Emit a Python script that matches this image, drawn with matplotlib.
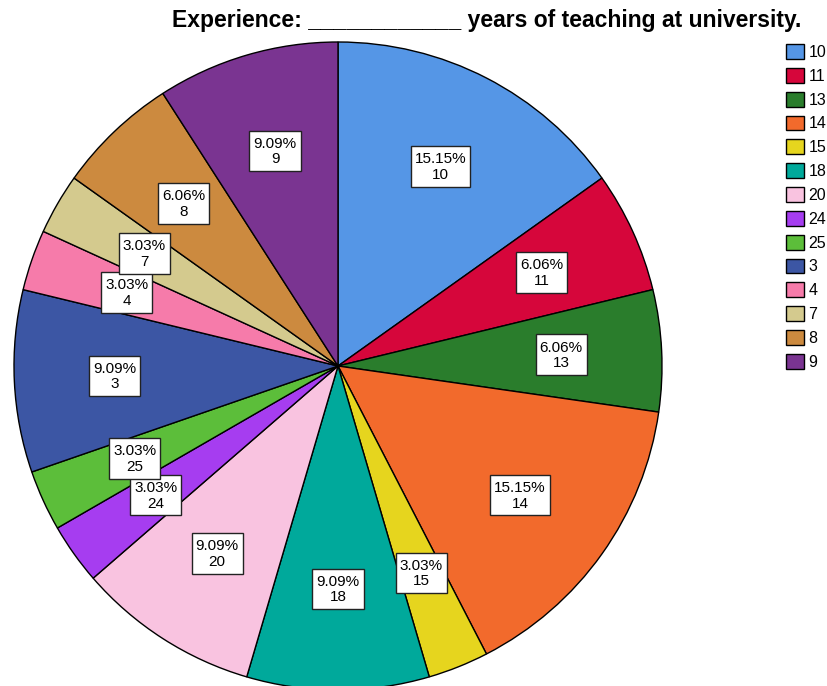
import numpy as np
import matplotlib.pyplot as plt
from matplotlib.path import Path

plt.rcParams['font.family'] = ['Liberation Sans', 'DejaVu Sans']

# Years of teaching experience and the number of respondents in each group
categories = ["10", "11", "13", "14", "15", "18", "20", "24", "25", "3", "4", "7", "8", "9"]
counts = [5, 2, 2, 5, 1, 3, 3, 1, 1, 3, 1, 1, 2, 3]
colors = ["#5596E6", "#D6063B", "#2A7D2C", "#F26A2C", "#E6D51E", "#00A99B", "#F9C3E0",
          "#A63DF0", "#5CBE3A", "#3C56A4", "#F67BAA", "#D4CA8E", "#CC8A3F", "#7A3491"]


# label box: narrow on the sides, taller above and below the text
def label_box(x0, y0, width, height, mutation_size):
    px, pt, pb = 0.26 * mutation_size, 0.4 * mutation_size, 0.32 * mutation_size
    verts = [(x0 - px, y0 - pb), (x0 + width + px, y0 - pb),
             (x0 + width + px, y0 + height + pt), (x0 - px, y0 + height + pt),
             (x0 - px, y0 - pb)]
    return Path(verts, closed=True)


fig = plt.figure(figsize=(8.28, 6.86), dpi=100)
ax = fig.add_axes([0, 0, 1, 1])

cx, cy, r = 338, 320, 324
wedges, _ = ax.pie(counts, colors=colors, startangle=90, counterclock=False,
                   center=(cx, cy), radius=r,
                   wedgeprops=dict(edgecolor="black", linewidth=1.0))
ax.set_xlim(0, 828)
ax.set_ylim(0, 686)
ax.set_aspect("equal")
ax.axis("off")

total = sum(counts)
for w, cat, n in zip(wedges, categories, counts):
    mid = np.deg2rad((w.theta1 + w.theta2) / 2)
    x = cx + 0.69 * r * np.cos(mid)
    y = cy + 0.69 * r * np.sin(mid)
    ax.text(x, y, f"{n / total * 100:.2f}%\n{cat}", ha="center", va="center",
            fontsize=11, linespacing=1.15,
            bbox=dict(boxstyle=label_box, facecolor="white", edgecolor="#222222", linewidth=1.0))

fig.text(487 / 828, 1 - 20 / 686, "Experience: ____________ years of teaching at university.",
         ha="center", va="center", fontsize=16.5, fontweight="bold")

fig.legend(wedges, categories, loc="upper left", bbox_to_anchor=(786 / 828, 1 - 44 / 686),
           frameon=False, fontsize=11.5, handlelength=1.1, handleheight=1.05,
           handletextpad=0.3, labelspacing=0.5, borderpad=0, borderaxespad=0)

fig.savefig("out.png", dpi=100)
